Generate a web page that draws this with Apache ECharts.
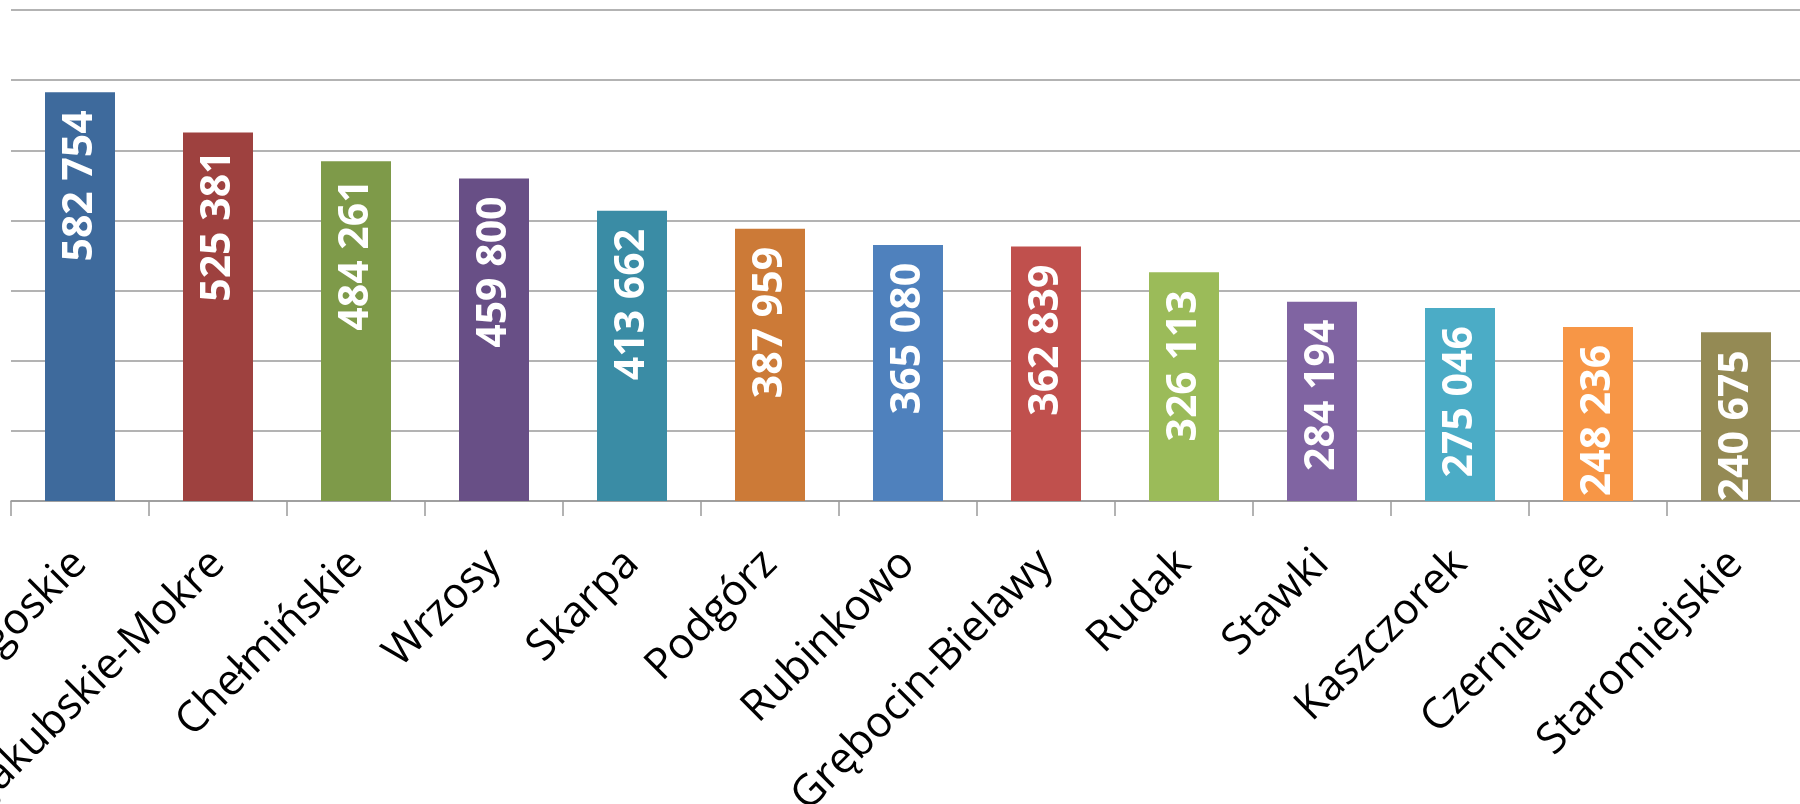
<!DOCTYPE html>
<html>
<head>
<meta charset="utf-8">
<script src="https://cdn.jsdelivr.net/npm/echarts@6/dist/echarts.min.js"></script>
<style>
html,body{margin:0;padding:0;background:#fff;}
#chart{width:1800px;height:804px;}
</style>
</head>
<body>
<div id="chart"></div>
<script>
const categories = ["Bydgoskie","Jakubskie-Mokre","Chełmińskie","Wrzosy","Skarpa","Podgórz","Rubinkowo","Grębocin-Bielawy","Rudak","Stawki","Kaszczorek","Czerniewice","Staromiejskie"];
const values = [582754,525381,484261,459800,413662,387959,365080,362839,326113,284194,275046,248236,240675];
const barColors = ["#3E6A9C","#9E413F","#7E9A49","#684F86","#3A8CA5","#CC7A37","#4F81BD","#C0504D","#9BBB59","#8064A2","#4BACC6","#F79646","#948A54"];
const axisMax = 700000;
const axisStep = 100000;

function fmt(v){
  return String(v).replace(/\B(?=(\d{3})+(?!\d))/g, ' ');
}

const chart = echarts.init(document.getElementById('chart'), null, {renderer:'canvas'});
chart.setOption({
  animation:false,
  grid:{left:11, top:10, width:1794, height:491, containLabel:false, outerBoundsMode:'none'},
  xAxis:{
    type:'category',
    data:categories,
    axisLine:{show:true, lineStyle:{color:'#9a9a9a', width:1.5}},
    axisTick:{show:true, length:15, alignWithLabel:false, lineStyle:{color:'#9a9a9a', width:1.5}},
    axisLabel:{interval:0, rotate:45, margin:56, color:'#000', fontFamily:'Open Sans', fontSize:43}
  },
  yAxis:{
    type:'value',
    min:0, max:axisMax, interval:axisStep,
    axisLine:{show:false},
    axisTick:{show:false},
    axisLabel:{show:false},
    splitLine:{show:true, lineStyle:{color:'#9a9a9a', width:1.5}}
  },
  series:[{
    type:'bar',
    data:values.map((v,i)=>({value:v, itemStyle:{color:barColors[i]}})),
    barWidth:70,
    label:{
      show:true,
      position:'insideTop',
      distance:18,
      rotate:90,
      align:'right',
      verticalAlign:'middle',
      color:'#fff',
      fontFamily:'Open Sans',
      fontWeight:'bold',
      fontSize:41,
      formatter:p=>fmt(p.value)
    }
  }]
});
</script>
</body>
</html>
